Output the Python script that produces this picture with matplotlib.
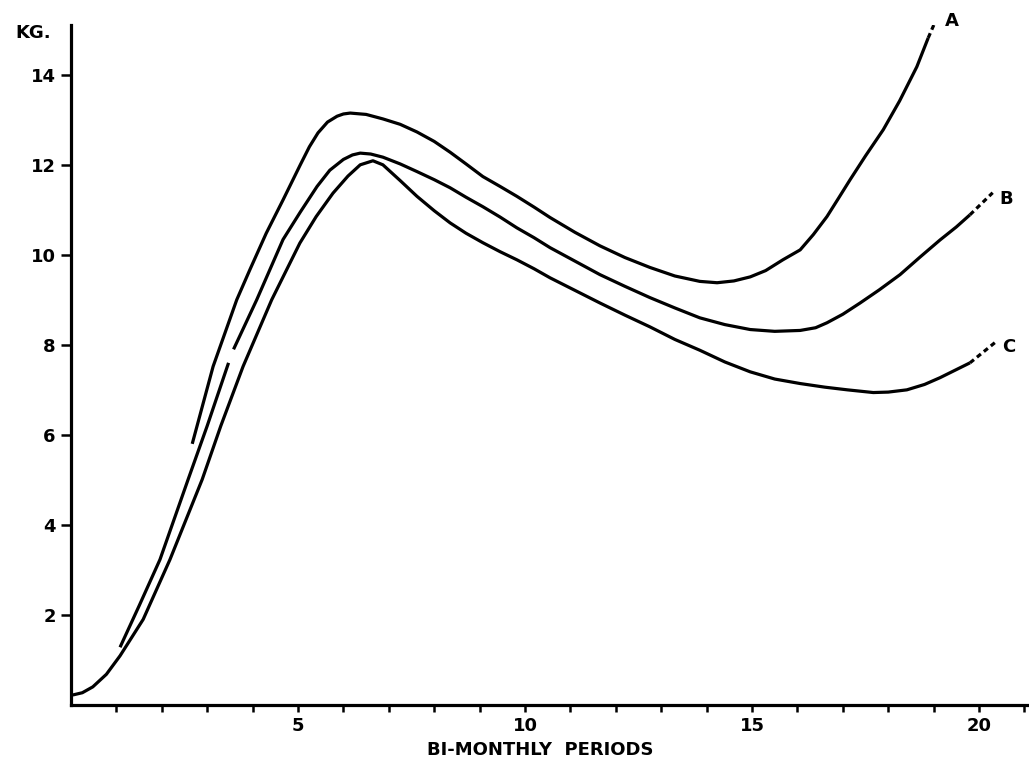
import numpy as np
import matplotlib
matplotlib.use("Agg")
import matplotlib.pyplot as plt

# curve A (top)
a_x = [2.67, 3.13, 3.65, 3.94, 4.30, 4.67, 5.05, 5.25, 5.44, 5.65, 5.86, 6.0, 6.15, 6.50,
       6.87, 7.25, 7.62, 8.0, 8.35, 8.7, 9.07, 9.45, 9.82, 10.2, 10.55, 11.1, 11.65, 12.2,
       12.75, 13.3, 13.85, 14.23, 14.6, 14.96, 15.3, 15.68, 16.06, 16.35, 16.65, 16.9,
       17.16, 17.5, 17.89, 18.25, 18.63, 18.88]
a_y = [5.80, 7.52, 9.00, 9.67, 10.48, 11.22, 12.0, 12.4, 12.71, 12.95, 13.08, 13.13, 13.15,
       13.12, 13.02, 12.90, 12.73, 12.52, 12.28, 12.02, 11.74, 11.52, 11.30, 11.06, 10.83,
       10.50, 10.20, 9.94, 9.72, 9.53, 9.41, 9.38, 9.42, 9.51, 9.65, 9.89, 10.11, 10.45,
       10.85, 11.25, 11.67, 12.2, 12.78, 13.42, 14.18, 14.82]
a_ext_x = [18.88, 19.12]
a_ext_y = [14.82, 15.38]

# curve B (middle), drawn in two pieces
b1_x = [1.08, 1.5, 1.96, 2.58, 3.0, 3.47]
b1_y = [1.28, 2.2, 3.23, 5.01, 6.2, 7.6]
b2_x = [3.58, 4.09, 4.67, 5.05, 5.42, 5.7, 6.0, 6.2, 6.37, 6.6, 6.87, 7.25, 7.62, 8.0,
        8.35, 8.7, 9.07, 9.45, 9.82, 10.2, 10.55, 11.1, 11.65, 12.2, 12.75, 13.3, 13.85,
        14.4, 14.96, 15.5, 16.06, 16.4, 16.65, 17.0, 17.38, 17.8, 18.26, 18.7, 19.14, 19.5,
        19.8]
b2_y = [7.9, 9.0, 10.34, 10.95, 11.52, 11.88, 12.12, 12.22, 12.26, 12.24, 12.17, 12.02,
        11.85, 11.67, 11.49, 11.28, 11.07, 10.84, 10.60, 10.38, 10.16, 9.86, 9.56, 9.30,
        9.05, 8.82, 8.60, 8.45, 8.34, 8.30, 8.32, 8.38, 8.49, 8.68, 8.93, 9.22, 9.56, 9.95,
        10.33, 10.62, 10.89]
b_ext_x = [19.8, 20.3]
b_ext_y = [10.89, 11.38]

# curve C (bottom)
c_x = [0.04, 0.25, 0.48, 0.78, 1.08, 1.59, 2.18, 2.89, 3.3, 3.79, 4.42, 5.04, 5.40, 5.77,
       6.1, 6.37, 6.65, 6.87, 7.25, 7.62, 8.0, 8.35, 8.7, 9.07, 9.45, 9.82, 10.2, 10.55,
       11.1, 11.65, 12.2, 12.75, 13.3, 13.85, 14.4, 14.96, 15.5, 16.06, 16.6, 17.1, 17.67,
       18.0, 18.41, 18.8, 19.14, 19.5, 19.8]
c_y = [0.22, 0.27, 0.40, 0.68, 1.09, 1.90, 3.23, 5.01, 6.2, 7.52, 9.0, 10.26, 10.85, 11.37,
       11.75, 12.0, 12.09, 12.0, 11.65, 11.30, 10.98, 10.71, 10.48, 10.27, 10.07, 9.89, 9.69,
       9.49, 9.21, 8.93, 8.66, 8.40, 8.12, 7.88, 7.62, 7.40, 7.24, 7.14, 7.06, 7.0, 6.94,
       6.95, 7.0, 7.12, 7.27, 7.45, 7.60]
c_ext_x = [19.8, 20.35]
c_ext_y = [7.60, 8.05]

labels = ["A", "B", "C"]
label_pos = [(19.25, 15.2), (20.45, 11.25), (20.5, 7.95)]

plt.rcParams['font.family'] = ['DejaVu Sans']
fig = plt.figure(figsize=(10.29, 7.67), dpi=100)
ax = fig.add_axes([0.069, 0.081, 0.931, 0.886])

lw = 2.3
for xs, ys in [(a_x, a_y), (b1_x, b1_y), (b2_x, b2_y), (c_x, c_y)]:
    ax.plot(xs, ys, color="black", lw=lw, solid_capstyle="butt", solid_joinstyle="round")
for xs, ys in [(a_ext_x, a_ext_y), (b_ext_x, b_ext_y), (c_ext_x, c_ext_y)]:
    ax.plot(xs, ys, color="black", lw=lw, linestyle=(0, (1.6, 1.2)))

for lab, (lx, ly) in zip(labels, label_pos):
    ax.text(lx, ly, lab, fontsize=13, fontweight="bold", ha="left", va="center")

ax.set_xlim(0, 21.1)
ax.set_ylim(0, 15.1)
ax.spines["top"].set_visible(False)
ax.spines["right"].set_visible(False)
ax.spines["left"].set_linewidth(2.3)
ax.spines["bottom"].set_linewidth(2.3)

ax.set_xticks(range(1, 22))
ax.set_xticklabels([str(i) if i % 5 == 0 else "" for i in range(1, 22)])
ax.set_yticks(range(2, 15, 2))
ax.tick_params(axis="x", direction="out", length=5, width=1.8, labelsize=13, pad=4)
ax.tick_params(axis="y", direction="out", length=7, width=1.8, labelsize=13, pad=4)
for t in ax.get_xticklabels() + ax.get_yticklabels():
    t.set_fontweight("bold")

ax.set_xlabel("BI-MONTHLY  PERIODS", fontsize=13, fontweight="bold")
ax.xaxis.set_label_coords(0.49, -0.053)
ax.text(-0.45, 14.93, "KG.", fontsize=13, fontweight="bold", ha="right", va="center",
        clip_on=False)

fig.savefig("out.png", dpi=100)
